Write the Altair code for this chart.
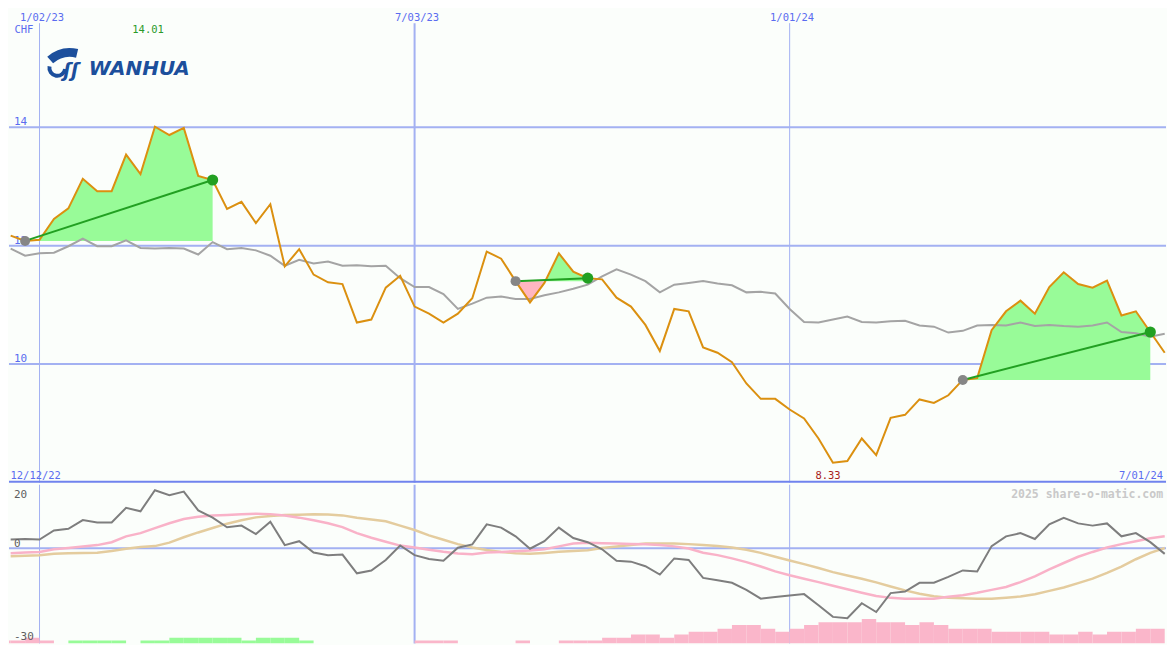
import altair as alt
import pandas as pd

# ---------------- data ----------------
price = [12.17, 12.08, 12.10, 12.45, 12.63, 13.13, 12.92, 12.92, 13.54, 13.21,
         14.01, 13.87, 13.99, 13.18, 13.11, 12.62, 12.74, 12.38, 12.70, 11.65,
         11.94, 11.51, 11.38, 11.35, 10.70, 10.75, 11.29, 11.49, 10.97, 10.85,
         10.70, 10.85, 11.11, 11.90, 11.78, 11.40, 11.04, 11.37, 11.87, 11.56,
         11.45, 11.43, 11.12, 10.97, 10.66, 10.22, 10.93, 10.89, 10.28, 10.19,
         10.03, 9.67, 9.41, 9.41, 9.23, 9.08, 8.74, 8.33, 8.36, 8.74,
         8.46, 9.09, 9.14, 9.40, 9.34, 9.47, 9.73, 9.76, 10.57, 10.89,
         11.07, 10.85, 11.30, 11.55, 11.35, 11.29, 11.41, 10.82, 10.89, 10.54,
         10.19]
ma = [11.95, 11.83, 11.87, 11.88, 11.99, 12.12, 11.99, 11.99, 12.09, 11.96,
      11.95, 11.96, 11.95, 11.85, 12.06, 11.94, 11.96, 11.92, 11.83, 11.66,
      11.76, 11.70, 11.73, 11.66, 11.67, 11.65, 11.66, 11.45, 11.30, 11.30,
      11.18, 10.93, 11.02, 11.12, 11.14, 11.10, 11.10, 11.16, 11.21, 11.27,
      11.34, 11.48, 11.60, 11.51, 11.40, 11.21, 11.34, 11.37, 11.40, 11.36,
      11.33, 11.21, 11.22, 11.19, 10.93, 10.71, 10.70, 10.75, 10.80, 10.71,
      10.70, 10.72, 10.73, 10.65, 10.63, 10.53, 10.56, 10.65, 10.66, 10.65,
      10.70, 10.64, 10.66, 10.64, 10.63, 10.65, 10.70, 10.54, 10.52, 10.46,
      10.51]
momentum = [2.73, 2.91, 2.73, 5.58, 6.10, 8.87, 8.13, 8.13, 12.73, 11.63,
            18.25, 16.72, 17.85, 11.93, 9.66, 6.60, 7.12, 4.45, 8.34, 0.98,
            2.21, -1.38, -2.18, -2.00, -7.91, -7.00, -3.71, 0.85, -2.18, -3.40,
            -3.93, 0.15, 1.20, 7.52, 6.50, 3.74, -0.15, 2.21, 6.50, 3.22,
            1.90, -0.34, -3.93, -4.23, -5.67, -8.31, -3.22, -3.71, -9.36, -10.06,
            -10.89, -13.13, -15.89, -15.37, -14.88, -14.45, -17.94, -21.63, -22.02, -17.33,
            -20.09, -14.14, -13.65, -10.89, -10.89, -9.05, -6.99, -7.30, 0.67, 3.74,
            4.75, 2.91, 7.52, 9.57, 7.82, 7.12, 7.82, 3.74, 4.75, 1.90,
            -1.78]
signal_fast = [-1.56, -1.38, -1.17, -0.34, 0.06, 0.52, 0.98, 1.90, 3.74, 4.75,
               6.35, 7.88, 9.20, 9.88, 10.28, 10.49, 10.71, 10.86, 10.74, 10.31,
               9.63, 8.80, 7.88, 6.66, 4.75, 3.28, 2.06, 0.83, 0.21, -0.46,
               -1.10, -1.63, -1.93, -1.35, -1.17, -0.92, -0.74, -0.34, 0.58, 1.50,
               1.69, 1.60, 1.50, 1.35, 1.23, 0.98, 0.58, -0.09, -1.41, -2.18,
               -3.19, -4.39, -5.77, -7.30, -8.53, -9.60, -10.67, -11.81, -12.94, -14.05,
               -15.06, -15.64, -15.89, -15.89, -15.89, -15.28, -14.79, -14.05, -13.13, -12.21,
               -10.67, -8.90, -6.69, -4.66, -2.70, -1.17, 0.21, 1.29, 2.21, 3.13,
               3.74]
signal_slow = [-2.55, -2.39, -2.18, -1.78, -1.56, -1.47, -1.41, -0.86, -0.15, 0.37,
               0.67, 1.75, 3.44, 4.97, 6.35, 7.73, 8.80, 9.72, 10.18, 10.43,
               10.55, 10.71, 10.64, 10.34, 9.57, 9.02, 8.50, 7.12, 5.74, 4.05,
               2.67, 1.29, 0.21, -0.55, -1.17, -1.56, -1.78, -1.47, -1.10, -0.86,
               -0.61, 0.06, 0.52, 0.98, 1.50, 1.50, 1.50, 1.29, 1.04, 0.67,
               0.21, -0.49, -1.47, -2.70, -3.87, -5.00, -6.23, -7.52, -8.59, -9.60,
               -10.77, -12.06, -13.28, -14.36, -15.12, -15.58, -15.74, -15.89, -15.89, -15.58,
               -15.21, -14.51, -13.44, -12.36, -10.98, -9.60, -7.76, -5.77, -3.47, -1.47,
               0.06]
# histogram bar k spans weeks k-1 .. k  (positive = green, negative = pink)
hist = [-0.9, -0.9, -1.8, -0.9, 0, 0.9, 0.9, 0.9, 0.9, 0,
        0.9, 0.9, 1.8, 1.8, 1.8, 1.8, 1.8, 0.9, 1.8, 1.8,
        1.8, 0.9, 0, 0, 0, 0, 0, 0, 0, -0.9,
        -0.9, -0.9, 0, 0, 0, 0, -0.9, 0, 0, -0.9,
        -0.9, -0.9, -1.8, -1.8, -2.8, -2.8, -1.8, -2.8, -3.7, -3.7,
        -4.6, -5.8, -5.8, -4.6, -3.7, -4.6, -5.8, -6.7, -6.7, -6.7,
        -7.7, -6.7, -6.7, -5.8, -6.7, -5.8, -4.6, -4.6, -4.6, -3.7,
        -3.7, -3.7, -3.7, -2.8, -2.8, -3.7, -2.8, -3.7, -3.7, -4.6,
        -4.6]
date_labels = ["1/02/23", "7/03/23", "1/01/24"]
date_index = [2, 28, 54]
date_width = [1, 2, 1]
first_label, last_label = "12/12/22", "7/01/24"
price_ticks = [14, 12, 10]
price_tick_labels = ["14", "12", "10"]
osc_ticks = [20, 0, -30]
osc_tick_labels = ["20", "0", "-30"]
regions = [(1, 14), (35, 40), (66, 79)]   # (start week, end week) of trend boxes
max_label, min_label = "14.01", "8.33"

# ---------------- layout / style ----------------
W_REF, H_REF = 1175, 650
W, H = 1159, 634
sx, sy = W / W_REF, H / H_REF
TOP_H = round(487 * sy)
BOT_H = H - TOP_H

BG = "#fbfefb"
GRID = "#a3b1f2"
DIVIDER = "#7083ee"
LABEL = "#5a6cf0"
ORANGE = "#db9010"
MAGRAY = "#a4a4a4"
GREEN_FILL = "#98fb98"
PINK_FILL = "#ffb6c1"
GREEN = "#22a022"
LOGO = "#1c4f9c"
MONO = "DejaVu Sans Mono"

xs = alt.Scale(domain=[-0.116, 80.089], nice=False, zero=False)
yt = alt.Scale(domain=[7.992, 16.008], nice=False, zero=False)
yb = alt.Scale(domain=[-30, 20], nice=False, zero=False)
X = alt.X("i:Q", scale=xs, axis=None)
X2 = alt.X2("i2:Q")

n = len(price)
df = pd.DataFrame({"i": list(range(n)), "price": price, "ma": ma,
                   "mom": momentum, "fast": signal_fast, "slow": signal_slow})

# fills between price and the starting level of each trend box
rows = []
for r, (s, e) in enumerate(regions):
    base = price[s]
    for k in range(s, e + 1):
        rows.append({"r": r, "i": k, "p": price[k], "base": base})
        if k < e:
            a, b = price[k] - base, price[k + 1] - base
            if a * b < 0:
                t = k + (base - price[k]) / (price[k + 1] - price[k])
                rows.append({"r": r, "i": t, "p": base, "base": base})
fill = pd.DataFrame(rows)
fill["hi"] = fill[["p", "base"]].max(axis=1)
fill["lo"] = fill[["p", "base"]].min(axis=1)

seg = pd.DataFrame([{"r": r, "i": k, "p": price[k]} for r, (s, e) in enumerate(regions) for k in (s, e)])
starts = pd.DataFrame([{"i": s, "p": price[s]} for s, e in regions])
ends = pd.DataFrame([{"i": e, "p": price[e]} for s, e in regions])

hist_df = pd.DataFrame({"i": [max(k - 1, -0.116) for k in range(len(hist))],
                        "i2": list(range(len(hist))),
                        "y0": [-30] * len(hist),
                        "y1": [-30 + abs(h) for h in hist],
                        "pos": ["up" if h > 0 else "down" for h in hist]})
hist_df = hist_df[[h != 0 for h in hist]]


def one(**cols):
    return pd.DataFrame({k: [v] for k, v in cols.items()})


# ---------------- top panel ----------------
hgrid = alt.Chart(pd.DataFrame({"v": price_ticks})).mark_rule(color=GRID, strokeWidth=2).encode(
    y=alt.Y("v:Q", scale=yt, axis=None))
vgrid_top = alt.Chart(pd.DataFrame({"i": date_index, "w": date_width})).mark_rule(color=GRID).encode(
    x=X, y=alt.value(15 * sy), y2=alt.value(TOP_H), strokeWidth=alt.StrokeWidth("w:Q", scale=None, legend=None))
divider = alt.Chart(one(a=1)).mark_rule(color=DIVIDER, strokeWidth=2).encode(
    x=alt.value(0), x2=alt.value(W), y=alt.value(TOP_H - 1))

green_area = alt.Chart(fill).mark_area(color=GREEN_FILL, opacity=1, interpolate="linear", clip=True).encode(
    x=X, y=alt.Y("hi:Q", scale=yt, axis=None), y2="base:Q", detail="r:N")
pink_area = alt.Chart(fill).mark_area(color=PINK_FILL, opacity=1, interpolate="linear", clip=True).encode(
    x=X, y=alt.Y("lo:Q", scale=yt, axis=None), y2="base:Q", detail="r:N")

tick_text = alt.Chart(pd.DataFrame({"v": price_ticks, "t": price_tick_labels})).mark_text(
    font=MONO, fontSize=11, color=LABEL, align="left", baseline="alphabetic", dy=-2).encode(
    x=alt.value(5 * sx), y=alt.Y("v:Q", scale=yt, axis=None), text="t:N")

ma_line = alt.Chart(df).mark_line(color=MAGRAY, strokeWidth=2, clip=True).encode(
    x=X, y=alt.Y("ma:Q", scale=yt, axis=None))
price_line = alt.Chart(df).mark_line(color=ORANGE, strokeWidth=2, clip=True).encode(
    x=X, y=alt.Y("price:Q", scale=yt, axis=None))
seg_line = alt.Chart(seg).mark_line(color=GREEN, strokeWidth=2).encode(
    x=X, y=alt.Y("p:Q", scale=yt, axis=None), detail="r:N")
start_pts = alt.Chart(starts).mark_circle(color="#868686", size=100, opacity=1).encode(
    x=X, y=alt.Y("p:Q", scale=yt, axis=None))
end_pts = alt.Chart(ends).mark_circle(color=GREEN, size=125, opacity=1).encode(
    x=X, y=alt.Y("p:Q", scale=yt, axis=None))

date_text = alt.Chart(pd.DataFrame({"i": date_index, "t": date_labels})).mark_text(
    font=MONO, fontSize=10.5, color=LABEL, align="center", baseline="alphabetic", dx=2.5 * sx).encode(
    x=X, y=alt.value(13.3 * sy), text="t:N")
chf_text = alt.Chart(one(t="CHF")).mark_text(
    font=MONO, fontSize=10.5, color=LABEL, align="left", baseline="alphabetic").encode(
    x=alt.value(5.5 * sx), y=alt.value(25 * sy), text="t:N")
imax = price.index(max(price))
imin = price.index(min(price))
max_text = alt.Chart(one(i=imax, t=max_label)).mark_text(
    font=MONO, fontSize=10.5, color="#2a9a2a", align="center", baseline="alphabetic", dx=-7 * sx).encode(
    x=X, y=alt.value(25 * sy), text="t:N")
min_text = alt.Chart(one(i=imin, t=min_label)).mark_text(
    font=MONO, fontSize=10.5, color="#a81c1c", align="center", baseline="alphabetic", dx=-5 * sx).encode(
    x=X, y=alt.value(483.3 * sy), text="t:N")
first_text = alt.Chart(one(t=first_label)).mark_text(
    font=MONO, fontSize=10.5, color=LABEL, align="left", baseline="alphabetic").encode(
    x=alt.value(1.5 * sx), y=alt.value(483.3 * sy), text="t:N")
last_text = alt.Chart(one(t=last_label)).mark_text(
    font=MONO, fontSize=10.5, color=LABEL, align="right", baseline="alphabetic").encode(
    x=alt.value(1172 * sx), y=alt.value(483.3 * sy), text="t:N")
logo = alt.Chart(one(t="WANHUA")).mark_text(
    font="DejaVu Sans", fontSize=20, fontWeight="bold", fontStyle="italic", color=LOGO,
    align="left", baseline="alphabetic").encode(
    x=alt.value(81 * sx), y=alt.value(68 * sy), text="t:N")
# emblem: a curved leaf and a hooked swirl
leaf = alt.Chart(one(a=1)).mark_arc(color=LOGO, theta=5.56, theta2=6.52, radius=35 * sx, radius2=26 * sx).encode(
    x=alt.value(62 * sx), y=alt.value(76 * sy))
hook = alt.Chart(one(a=1)).mark_arc(color=LOGO, theta=1.7, theta2=4.9, radius=10 * sx, radius2=6 * sx).encode(
    x=alt.value(49 * sx), y=alt.value(61 * sy))
swirl = alt.Chart(one(t="ʃʃ")).mark_text(
    font="DejaVu Sans", fontSize=19, fontWeight="bold", fontStyle="italic", color=LOGO,
    align="left", baseline="alphabetic").encode(
    x=alt.value(55 * sx), y=alt.value(70 * sy), text="t:N")

top = alt.layer(
    hgrid, vgrid_top, tick_text, green_area, pink_area, ma_line, price_line, seg_line,
    start_pts, end_pts, date_text, chf_text, max_text, min_text, first_text, last_text,
    logo, leaf, hook, swirl, divider
).properties(width=W, height=TOP_H)

# ---------------- bottom panel ----------------
zero_rule = alt.Chart(one(v=0)).mark_rule(color=GRID, strokeWidth=2).encode(
    y=alt.Y("v:Q", scale=yb, axis=None))
vgrid_bot = alt.Chart(pd.DataFrame({"i": date_index, "w": date_width})).mark_rule(color=GRID).encode(
    x=X, y=alt.value(0), y2=alt.value(BOT_H), strokeWidth=alt.StrokeWidth("w:Q", scale=None, legend=None))
bars = alt.Chart(hist_df).mark_rect(clip=True).encode(
    x=X, x2=X2, y=alt.Y("y0:Q", scale=yb, axis=None), y2="y1:Q",
    color=alt.Color("pos:N", scale=alt.Scale(domain=["up", "down"], range=[GREEN_FILL, "#fab6ca"]), legend=None))
slow_line = alt.Chart(df).mark_line(color="#e4cc9e", strokeWidth=2.5, clip=True).encode(
    x=X, y=alt.Y("slow:Q", scale=yb, axis=None))
fast_line = alt.Chart(df).mark_line(color="#f9b2c8", strokeWidth=2.5, clip=True).encode(
    x=X, y=alt.Y("fast:Q", scale=yb, axis=None))
mom_line = alt.Chart(df).mark_line(color="#7e7e7e", strokeWidth=2, clip=True).encode(
    x=X, y=alt.Y("mom:Q", scale=yb, axis=None))

osc_offsets = [13.7 * sy, -1, -3]
osc_text_layers = [
    alt.Chart(one(v=v, t=t)).mark_text(
        font=MONO, fontSize=11, color="#5e5e5e", align="left", baseline="alphabetic", dy=d).encode(
        x=alt.value(5 * sx), y=alt.Y("v:Q", scale=yb, axis=None), text="t:N")
    for v, t, d in zip(osc_ticks, osc_tick_labels, osc_offsets)
]
credit = alt.Chart(one(t="2025 share-o-matic.com")).mark_text(
    font=MONO, fontSize=11.5, fontWeight="bold", color="#c9c9c9", align="right", baseline="alphabetic").encode(
    x=alt.value(1172 * sx), y=alt.value(13.7 * sy), text="t:N")

bottom = alt.layer(
    zero_rule, vgrid_bot, bars, slow_line, fast_line, mom_line, *osc_text_layers, credit
).properties(width=W, height=BOT_H)

chart = alt.vconcat(top, bottom, spacing=0).properties(
    padding=0, background=BG
).configure_view(stroke=None, strokeWidth=0).configure_concat(spacing=0)

chart.save("out.html", embed_options={"renderer": "svg", "actions": False})
